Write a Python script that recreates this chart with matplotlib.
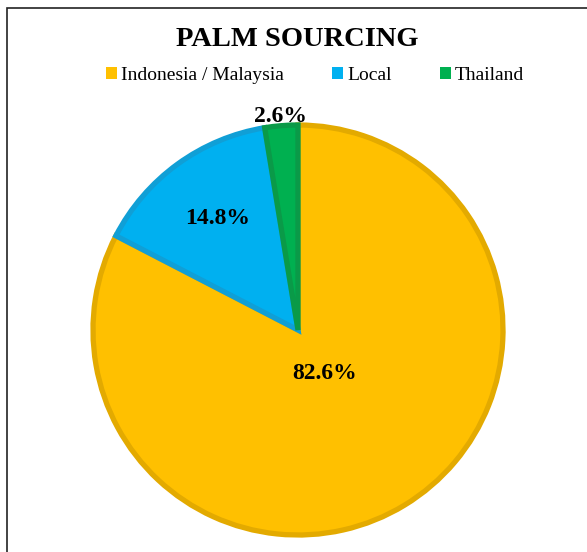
import numpy as np
import matplotlib.pyplot as plt
from matplotlib.patches import Patch, Rectangle

# data
labels = ['Indonesia / Malaysia', 'Local', 'Thailand']
shares = [82.6, 14.8, 2.6]
colors = ['#FFC000', '#00B0F0', '#00B050']
edges = ['#E3AA00', '#109FD6', '#0A9A48']
label_dist = [0.25, 0.67, 1.047]

plt.rcParams['font.family'] = ['Liberation Serif', 'DejaVu Serif']

W, H = 587, 552
fig = plt.figure(figsize=(W / 100, H / 100), dpi=100)

# pie centre (298, 330) px, radius 205 px; axes limits +-1.1
r = 205
cx, cy = 298, H - 330
half = 1.1 * r
ax = fig.add_axes([(cx - half) / W, (cy - half) / H, 2 * half / W, 2 * half / H])

wedges, _ = ax.pie(shares, colors=colors, startangle=90, counterclock=False,
                   radius=1.0, wedgeprops=dict(linewidth=3.8))
for w, ec in zip(wedges, edges):
    w.set_edgecolor(ec)
    w.set_joinstyle('miter')

# percentage labels at wedge mid-angles
for w, s, d in zip(wedges, shares, label_dist):
    ang = np.deg2rad((w.theta1 + w.theta2) / 2)
    ax.text(d * np.cos(ang), d * np.sin(ang), f'{s:.1f}%', ha='center', va='center',
            fontsize=17, fontweight='bold', color='black')

ax.set_xlim(-1.1, 1.1)
ax.set_ylim(-1.1, 1.1)
ax.set_aspect('equal')
ax.axis('off')

fig.text(297 / W, 1 - 40 / H, 'PALM SOURCING', ha='center', va='center',
         fontsize=20.5, fontweight='bold')

handles = [Patch(facecolor=c, edgecolor='none') for c in colors]
fig.legend(handles, labels, loc='center', bbox_to_anchor=(315 / W, 1 - 75 / H),
           ncol=3, frameon=False, fontsize=14, handlelength=0.57, handleheight=0.57,
           handletextpad=0.2, columnspacing=2.5, borderpad=0)

# chart frame (only left and top edges fall inside the picture)
fig.patches.append(Rectangle((6.5 / W, -0.1), 1.2, 1.1 - 8 / H, transform=fig.transFigure,
                             fill=False, edgecolor='#222222', linewidth=1.2))

fig.savefig('out.png', dpi=100)
